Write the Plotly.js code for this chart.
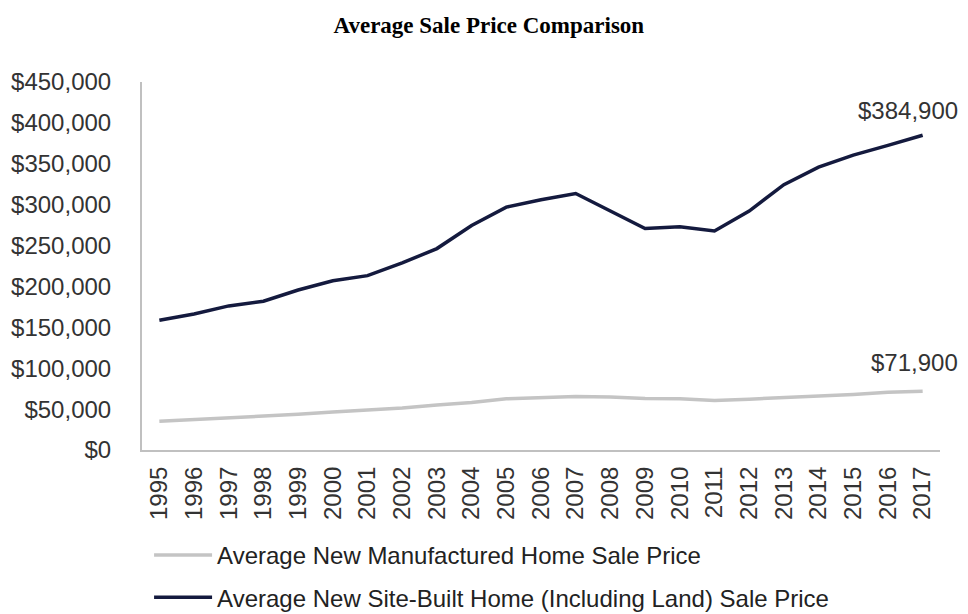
<!DOCTYPE html>
<html>
<head>
<meta charset="utf-8">
<script src="https://cdn.plot.ly/plotly-3.0.1.min.js"></script>
<style>html,body{margin:0;padding:0;background:#fff;}#chart{width:968px;height:614px;}</style>
</head>
<body>
<div id="chart"></div>
<script>
const years = ['1995','1996','1997','1998','1999','2000','2001','2002','2003','2004','2005','2006','2007','2008','2009','2010','2011','2012','2013','2014','2015','2016','2017'];
const manufactured = [35300,37200,39800,41600,43600,46400,48900,51300,54900,58200,62600,64300,65400,64900,63100,62800,60500,62200,64000,65300,68000,70600,71900];
const siteBuilt = [158700,166400,176200,181900,195600,207000,213200,228700,246300,274500,297000,305900,313600,292600,270900,272900,267900,292200,324500,345800,360600,372500,384900];
const seriesNames = ['Average New Manufactured Home Sale Price','Average New Site-Built Home (Including Land) Sale Price'];
const yTicks = [0,50000,100000,150000,200000,250000,300000,350000,400000,450000];

const fmt = v => '$' + v.toLocaleString('en-US');
const last = years.length - 1;
const tickFont = {family:'"Liberation Sans", Arial, sans-serif', size:24, color:'#333333'};

const traces = [
  {x: years, y: manufactured, name: seriesNames[0], type:'scatter', mode:'lines',
   line:{color:'#c4c4c4', width:3.5}, legendgroup:'a', hoverinfo:'skip'},
  {x: years, y: siteBuilt, name: seriesNames[1], type:'scatter', mode:'lines',
   line:{color:'#141a3e', width:3.5}, legendgroup:'b', hoverinfo:'skip'}
];

const layout = {
  width:968, height:614,
  margin:{l:142, r:28, t:82, b:164, autoexpand:false},
  paper_bgcolor:'#ffffff', plot_bgcolor:'#ffffff',
  title:{text:'<b>Average Sale Price Comparison</b>', font:{family:'"Liberation Serif", "Times New Roman", serif', size:23, color:'#000'},
         xref:'container', x:0.505, xanchor:'center', yref:'container', y:0.959, yanchor:'middle'},
  xaxis:{type:'category', range:[-0.5, 22.5], showline:true, linecolor:'#c0c0c0', linewidth:2, automargin:false,
         showgrid:false, zeroline:false, ticks:'', tickangle:-90, tickfont:tickFont, ticklabelstandoff:5, fixedrange:true},
  yaxis:{range:[0,450000], tickvals:yTicks, ticktext:yTicks.map(fmt), showline:true, linecolor:'#c0c0c0', linewidth:2, automargin:false,
         showgrid:false, zeroline:false, ticks:'', tickfont:tickFont, ticklabelstandoff:24, fixedrange:true},
  showlegend:true,
  legend:{orientation:'v', xref:'container', x:0.154, xanchor:'left', yref:'container', y:0.132, yanchor:'top',
          font:{family:'"Liberation Sans", Arial, sans-serif', size:24, color:'#222'}, traceorder:'grouped', tracegroupgap:8,
          itemwidth:58, bgcolor:'rgba(0,0,0,0)'},
  annotations:[
    {xref:'x', yref:'y', x:last, y:siteBuilt[last], text:fmt(siteBuilt[last]), showarrow:false,
     xanchor:'right', yanchor:'middle', xshift:37, yshift:25, font:tickFont},
    {xref:'x', yref:'y', x:last, y:manufactured[last], text:fmt(manufactured[last]), showarrow:false,
     xanchor:'right', yanchor:'middle', xshift:37, yshift:29, font:tickFont}
  ]
};

Plotly.newPlot('chart', traces, layout, {displayModeBar:false, staticPlot:true});
</script>
</body>
</html>
